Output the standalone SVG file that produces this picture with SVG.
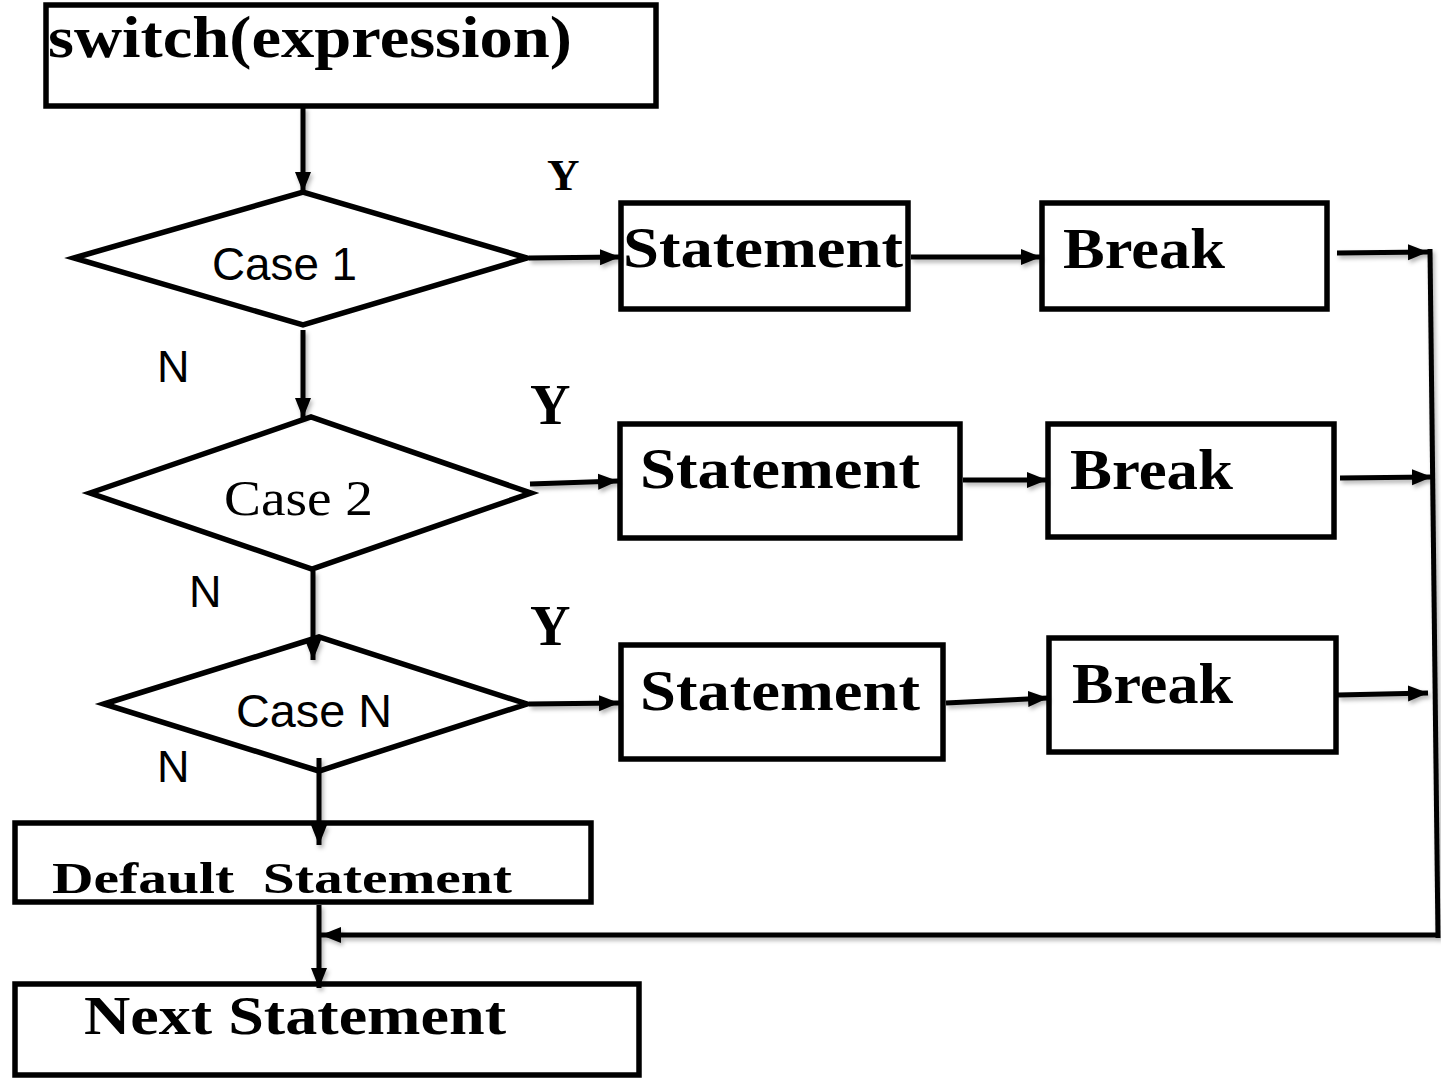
<svg xmlns="http://www.w3.org/2000/svg" width="1441" height="1078" viewBox="0 0 1441 1078">
  <style>
    .box { fill: #ffffff; stroke: #000000; stroke-width: 5.5; }
    .dia { fill: #ffffff; stroke: #000000; stroke-width: 5.5; stroke-linejoin: miter; }
    .edge { fill: none; stroke: #000000; stroke-width: 5; }
    .serif { font-family: "Liberation Serif", "Times New Roman", serif; font-weight: bold; fill: #000000; }
    .serif-r { font-family: "Liberation Serif", "Times New Roman", serif; fill: #000000; }
    .sans { font-family: "Liberation Sans", Arial, sans-serif; fill: #000000; }
  </style>
  <defs>
    <marker id="arrow" markerUnits="userSpaceOnUse" markerWidth="22" markerHeight="18" refX="20" refY="9" orient="auto">
      <path d="M0,1 L20,9 L0,17 z" fill="#000000"/>
    </marker>
    <filter id="soft" x="-5%" y="-50%" width="110%" height="200%">
      <feDropShadow dx="2" dy="3" stdDeviation="2" flood-color="#000000" flood-opacity="0.3"/>
    </filter>
  </defs>

  <rect width="1441" height="1078" fill="#ffffff"/>

  <!-- edge labels -->
  <g id="labels">
    <text class="serif" x="547" y="190" font-size="45">Y</text>
    <text class="serif" x="530" y="424" font-size="56">Y</text>
    <text class="serif" x="530" y="645" font-size="56">Y</text>
    <text class="sans" x="157" y="382" font-size="45">N</text>
    <text class="sans" x="189" y="607" font-size="45">N</text>
    <text class="sans" x="157" y="782" font-size="45">N</text>
  </g>

  <g id="switch">
    <rect class="box" x="46" y="5" width="610" height="101"/>
    <text class="serif" x="48" y="57" font-size="60" textLength="524" lengthAdjust="spacingAndGlyphs">switch(expression)</text>
  </g>

  <g id="case1">
    <polygon class="dia" points="74,258 303,192 527,258 303,325"/>
    <text class="sans" x="212" y="280" font-size="46" textLength="145" lengthAdjust="spacingAndGlyphs">Case 1</text>
  </g>

  <g id="case2">
    <polygon class="dia" points="90,493 311,417 531,493 312,569"/>
    <text class="serif-r" x="224" y="515" font-size="50" textLength="149" lengthAdjust="spacingAndGlyphs">Case 2</text>
  </g>

  <g id="caseN">
    <polygon class="dia" points="104,704 319,637 527,704 319,771"/>
    <text class="sans" x="236" y="727" font-size="47" textLength="156" lengthAdjust="spacingAndGlyphs">Case N</text>
  </g>

  <g id="statement1">
    <rect class="box" x="621" y="203" width="287" height="106"/>
    <text class="serif" x="623" y="267" font-size="56" textLength="280" lengthAdjust="spacingAndGlyphs">Statement</text>
  </g>

  <g id="break1">
    <rect class="box" x="1042" y="203" width="285" height="106"/>
    <text class="serif" x="1063" y="268" font-size="57" textLength="162" lengthAdjust="spacingAndGlyphs">Break</text>
  </g>

  <g id="statement2">
    <rect class="box" x="620" y="424" width="340" height="114"/>
    <text class="serif" x="640" y="488" font-size="56" textLength="280" lengthAdjust="spacingAndGlyphs">Statement</text>
  </g>

  <g id="break2">
    <rect class="box" x="1048" y="424" width="286" height="113"/>
    <text class="serif" x="1070" y="489" font-size="57" textLength="163" lengthAdjust="spacingAndGlyphs">Break</text>
  </g>

  <g id="statement3">
    <rect class="box" x="621" y="645" width="322" height="114"/>
    <text class="serif" x="640" y="710" font-size="56" textLength="280" lengthAdjust="spacingAndGlyphs">Statement</text>
  </g>

  <g id="break3">
    <rect class="box" x="1049" y="638" width="287" height="114"/>
    <text class="serif" x="1072" y="703" font-size="57" textLength="161" lengthAdjust="spacingAndGlyphs">Break</text>
  </g>

  <g id="default">
    <rect class="box" x="15" y="823" width="576" height="79"/>
    <text class="serif" x="52" y="893" font-size="45" textLength="460" lengthAdjust="spacingAndGlyphs">Default&#160; Statement</text>
  </g>

  <g id="next">
    <rect class="box" x="15" y="984" width="624" height="91"/>
    <text class="serif" x="84" y="1034" font-size="55" textLength="422" lengthAdjust="spacingAndGlyphs">Next Statement</text>
  </g>

  <!-- connectors, drawn over the shapes so heads that reach inside stay visible -->
  <g id="connectors" filter="url(#soft)">
    <path class="edge" d="M303,107 V192" marker-end="url(#arrow)"/>
    <path class="edge" d="M303,330 V418" marker-end="url(#arrow)"/>
    <path class="edge" d="M313,571 V660" marker-end="url(#arrow)"/>
    <path class="edge" d="M319,758 V845" marker-end="url(#arrow)"/>
    <path class="edge" d="M319,905 V988" marker-end="url(#arrow)"/>
    <path class="edge" d="M529,258 L620,257" marker-end="url(#arrow)"/>
    <path class="edge" d="M911,257 L1041,257" marker-end="url(#arrow)"/>
    <path class="edge" d="M1337,253 L1428,252" marker-end="url(#arrow)"/>
    <path class="edge" d="M530,484 L618,481" marker-end="url(#arrow)"/>
    <path class="edge" d="M963,480 L1047,480" marker-end="url(#arrow)"/>
    <path class="edge" d="M1340,478 L1432,477" marker-end="url(#arrow)"/>
    <path class="edge" d="M529,704 L619,703" marker-end="url(#arrow)"/>
    <path class="edge" d="M946,703 L1048,698" marker-end="url(#arrow)"/>
    <path class="edge" d="M1338,695 L1428,693" marker-end="url(#arrow)"/>
    <path class="edge" d="M1430,249 L1438,938"/>
    <path class="edge" d="M1436,935 L321,935" marker-end="url(#arrow)"/>
  </g>
</svg>
